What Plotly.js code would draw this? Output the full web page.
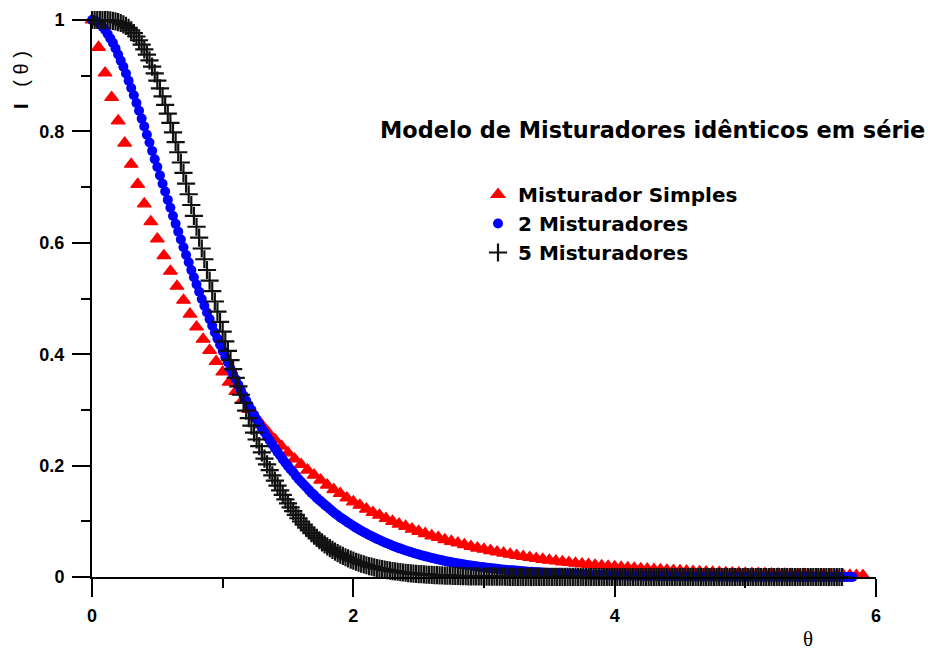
<!DOCTYPE html>
<html><head><meta charset="utf-8">
<script src="https://cdn.plot.ly/plotly-3.0.1.min.js"></script>
<style>html,body{margin:0;padding:0;background:#fff}</style>
</head><body><div id="chart" style="width:928px;height:653px"></div>
<script>
const seriesNames = ['Misturador Simples', '2 Misturadores', '5 Misturadores'];
const chartTitle = 'Modelo de Misturadores idênticos em série';
const xTitle = 'θ';
const yTitle = '<b>I</b>\u00a0\u00a0\u00a0(\u00a0θ\u00a0)';
const thetaStart = 0;
const stepSimples = 0.05;
const stepSeries = 0.02;

const ySimples = [
1, 0.951, 0.905, 0.861, 0.819, 0.779, 0.741, 0.705, 0.670, 0.638,
0.607, 0.577, 0.549, 0.522, 0.497, 0.472, 0.449, 0.427, 0.407, 0.387,
0.368, 0.350, 0.333, 0.317, 0.301, 0.287, 0.273, 0.259, 0.247, 0.235,
0.223, 0.212, 0.202, 0.192, 0.183, 0.174, 0.165, 0.157, 0.150, 0.142,
0.135, 0.129, 0.122, 0.116, 0.111, 0.105, 0.100, 0.095, 0.091, 0.086,
0.082, 0.078, 0.074, 0.071, 0.067, 0.064, 0.061, 0.058, 0.055, 0.052,
0.0498, 0.0474, 0.0450, 0.0429, 0.0408, 0.0388, 0.0369, 0.0351, 0.0334, 0.0317,
0.0302, 0.0287, 0.0273, 0.0260, 0.0247, 0.0235, 0.0224, 0.0213, 0.0202, 0.0193,
0.0183, 0.0174, 0.0166, 0.0158, 0.0150, 0.0143, 0.0136, 0.0129, 0.0123, 0.0117,
0.0111, 0.0106, 0.0101, 0.0096, 0.0091, 0.0087, 0.0082, 0.0078, 0.0074, 0.0071,
0.0067, 0.0064, 0.0061, 0.0058, 0.0055, 0.0052, 0.0050, 0.0047, 0.0045, 0.0043,
0.0041, 0.0039, 0.0037, 0.0035, 0.0033, 0.0032, 0.0030, 0.0029, 0.0027
];

const y2Misturadores = [
1, 0.999, 0.997, 0.993, 0.988, 0.982, 0.975, 0.967, 0.959, 0.949,
0.938, 0.927, 0.916, 0.904, 0.891, 0.878, 0.865, 0.851, 0.837, 0.823,
0.809, 0.794, 0.780, 0.765, 0.750, 0.736, 0.721, 0.706, 0.692, 0.677,
0.663, 0.648, 0.634, 0.620, 0.606, 0.592, 0.578, 0.565, 0.551, 0.538,
0.525, 0.512, 0.499, 0.487, 0.475, 0.463, 0.451, 0.439, 0.428, 0.417,
0.406,
0.395, 0.385, 0.374, 0.364, 0.355, 0.345, 0.335, 0.326, 0.317, 0.308,
0.300, 0.291, 0.283, 0.275, 0.267, 0.260, 0.252, 0.245, 0.238, 0.231,
0.224, 0.218, 0.211, 0.205, 0.199, 0.193, 0.188, 0.182, 0.176, 0.171,
0.166, 0.161, 0.156, 0.151, 0.147, 0.142, 0.138, 0.134, 0.130, 0.126,
0.122, 0.118, 0.114, 0.111, 0.107, 0.104, 0.101, 0.0976, 0.0946, 0.0916,
0.0887, 0.0859, 0.0832, 0.0805, 0.0780, 0.0755, 0.0731, 0.0708, 0.0685, 0.0663,
0.0642, 0.0621, 0.0601, 0.0582, 0.0563, 0.0545, 0.0527, 0.0510, 0.0493, 0.0477,
0.0462, 0.0447, 0.0432, 0.0418, 0.0404, 0.0391, 0.0378, 0.0366, 0.0354, 0.0342,
0.0331, 0.0320, 0.0309, 0.0299, 0.0289, 0.0279, 0.0270, 0.0261, 0.0252, 0.0244,
0.0236, 0.0228, 0.0220, 0.0213, 0.0206, 0.0199, 0.0192, 0.0186, 0.0180, 0.0174,
0.0168, 0.0162, 0.0157, 0.0151, 0.0146, 0.0141, 0.0136, 0.0132, 0.0127, 0.0123,
0.0119, 0.0115, 0.0111, 0.0107, 0.0103, 0.0100, 0.0096, 0.0093, 0.0090, 0.0087,
0.0084, 0.0081, 0.0078, 0.0076, 0.0073, 0.0070, 0.0068, 0.0066, 0.0063, 0.0061,
0.0059, 0.0057, 0.0055, 0.0053, 0.0051, 0.0050, 0.0048, 0.0046, 0.0045, 0.0043,
0.0042, 0.0040, 0.0039, 0.0037, 0.0036, 0.0035, 0.0034, 0.0032, 0.0031, 0.0030,
0.0029, 0.0028, 0.0027, 0.0026, 0.0025, 0.0024, 0.0024, 0.0023, 0.0022, 0.0021,
0.0020, 0.0020, 0.0019, 0.0018, 0.0018, 0.0017, 0.0016, 0.0016, 0.0015, 0.0015,
0.0014, 0.0014, 0.0013, 0.0013, 0.0012, 0.0012, 0.0011, 0.0011, 0.0011, 0.0010,
0.0010, 0.0010, 0.0009, 0.0009, 0.0009, 0.0008, 0.0008, 0.0008, 0.0007, 0.0007,
0.0007, 0.0007, 0.0006, 0.0006, 0.0006, 0.0006, 0.0006, 0.0005, 0.0005, 0.0005,
0.0005, 0.0005, 0.0004, 0.0004, 0.0004, 0.0004, 0.0004, 0.0004, 0.0004, 0.0003,
0.0003, 0.0003, 0.0003, 0.0003, 0.0003, 0.0003, 0.0003, 0.0003, 0.0003, 0.0002,
0.0002, 0.0002, 0.0002, 0.0002, 0.0002, 0.0002, 0.0002, 0.0002, 0.0002, 0.0002,
0.0002, 0.0002, 0.0001, 0.0001, 0.0001, 0.0001, 0.0001, 0.0001, 0.0001, 0.0001,
0.0001
];

const y5Misturadores = [
1, 1, 1, 1, 0.9999, 0.9998, 0.9996, 0.9992, 0.9986, 0.9977, 0.9963,
0.9946, 0.9923, 0.9893, 0.9857, 0.9814, 0.9763, 0.9704, 0.9636, 0.9559, 0.9473,
0.9379, 0.9275, 0.9163, 0.9041, 0.8912, 0.8774, 0.8629, 0.8477, 0.8318, 0.8153,
0.7982, 0.7806, 0.7626, 0.7442, 0.7254, 0.7064, 0.6872, 0.6679, 0.6484, 0.6288,
0.6093, 0.5898, 0.5705, 0.5512, 0.5321, 0.5132, 0.4946, 0.4763, 0.4582, 0.4405,
0.4231, 0.4061, 0.3895, 0.3733, 0.3575, 0.3422, 0.3272, 0.3127, 0.2987, 0.2851,
0.2719, 0.2592, 0.2469, 0.2351, 0.2237, 0.2127, 0.2022, 0.1920, 0.1823, 0.1730,
0.1641, 0.1555, 0.1473, 0.1395, 0.1321, 0.1249, 0.1181, 0.1117, 0.1055, 0.0996,
0.0940, 0.0887, 0.0837, 0.0789, 0.0744, 0.0701, 0.0660, 0.0621, 0.0584, 0.0550,
0.0517, 0.0486, 0.0456, 0.0429, 0.0403, 0.0378, 0.0355, 0.0333, 0.0312, 0.0293,
0.0274, 0.0257, 0.0241, 0.0225, 0.0211, 0.0197, 0.0185, 0.0173, 0.0162, 0.0151,
0.0141, 0.0132, 0.0123, 0.0115, 0.0107, 0.0100, 0.0094, 0.0087, 0.0081, 0.0076,
0.0071, 0.0066, 0.0062, 0.0057, 0.0053, 0.0050, 0.0046, 0.0043, 0.0040, 0.0037,
0.0035, 0.0032, 0.0030, 0.0028, 0.0026, 0.0024, 0.0023, 0.0021, 0.0019, 0.0018,
0.0017, 0.0016, 0.0014, 0.0013, 0.0012, 0.0012, 0.0011, 0.0010, 0.0009, 0.0009,
0.0008, 0.0007, 0.0007, 0.0006, 0.0006, 0.0006, 0.0005, 0.0005, 0.0004, 0.0004,
0.0004, 0.0003, 0.0003, 0.0003, 0.0003, 0.0003, 0.0002, 0.0002, 0.0002, 0.0002,
0.0002, 0.0002, 0.0001, 0.0001, 0.0001, 0.0001, 0.0001, 0.0001, 0.0001, 0.0001,
0.0001, 0.0001, 0.0001, 0.0001, 0.0001, 0, 0, 0, 0, 0,
0, 0, 0, 0, 0, 0, 0, 0, 0, 0,
0, 0, 0, 0, 0, 0, 0, 0, 0, 0,
0, 0, 0, 0, 0, 0, 0, 0, 0, 0,
0, 0, 0, 0, 0, 0, 0, 0, 0, 0,
0, 0, 0, 0, 0, 0, 0, 0, 0, 0,
0, 0, 0, 0, 0, 0, 0, 0, 0, 0,
0, 0, 0, 0, 0, 0, 0, 0, 0, 0,
0, 0, 0, 0, 0, 0, 0, 0, 0, 0,
0, 0, 0, 0, 0, 0, 0, 0, 0, 0,
0, 0, 0, 0, 0, 0, 0
];

const xTickVals = [0, 2, 4, 6];
const yTickVals = [0, 0.2, 0.4, 0.6, 0.8, 1];

const W = 928, H = 653, L = 92, R = 52, T = 20, B = 76;
const pw = W - L - R, ph = H - T - B;
const px = x => (x - L) / pw;
const py = y => (H - B - y) / ph;

const tickFont = {family: 'Liberation Sans, Arial, sans-serif', size: 18, color: '#000', weight: 'bold'};

const traces = [
  {type: 'scatter', mode: 'markers', name: seriesNames[0], x0: thetaStart, dx: stepSimples, y: ySimples,
   marker: {symbol: 'triangle-up', size: 12, color: '#ff0000', line: {width: 1.2, color: '#ff0000'}}, cliponaxis: false},
  {type: 'scatter', mode: 'markers', name: seriesNames[1], x0: thetaStart, dx: stepSeries, y: y2Misturadores,
   marker: {symbol: 'circle', size: 10, color: '#0000ff', line: {width: 0}}, cliponaxis: false},
  {type: 'scatter', mode: 'markers', name: seriesNames[2], x0: thetaStart, dx: stepSeries, y: y5Misturadores,
   marker: {symbol: 'cross-thin', size: 13, color: '#111111', line: {width: 2.2, color: '#111111'}}, cliponaxis: false}
];

const axisCommon = {
  showline: true, linecolor: '#000', linewidth: 2, mirror: false,
  ticks: 'outside', ticklen: 18, tickwidth: 2, tickcolor: '#000',
  showgrid: false, zeroline: false, tickfont: tickFont, fixedrange: true
};

const layout = {
  width: W, height: H,
  margin: {l: L, r: R, t: T, b: B, pad: 0},
  paper_bgcolor: '#fff', plot_bgcolor: '#fff',
  showlegend: true,
  legend: {x: px(478), y: py(175), xanchor: 'left', yanchor: 'top', bgcolor: 'rgba(0,0,0,0)', borderwidth: 0,
           font: {family: 'DejaVu Sans, sans-serif', size: 20, color: '#000', weight: 'bold'}},
  xaxis: Object.assign({}, axisCommon, {range: [0, 6], tickvals: xTickVals, ticklabelstandoff: 3,
    minor: {ticks: 'outside', ticklen: 9, tickwidth: 2, tickcolor: '#000', dtick: 1, tick0: 0, showgrid: false}}),
  yaxis: Object.assign({}, axisCommon, {range: [0, 1], tickvals: yTickVals, ticklabelstandoff: 4,
    minor: {ticks: 'outside', ticklen: 9, tickwidth: 2, tickcolor: '#000', dtick: 0.1, tick0: 0, showgrid: false}}),
  annotations: [
    {text: chartTitle, xref: 'paper', yref: 'paper', x: px(378), y: py(130), xanchor: 'left', yanchor: 'middle',
     showarrow: false, font: {family: 'DejaVu Sans, sans-serif', size: 22.4, color: '#000', weight: 'bold'}},
    {text: yTitle, xref: 'paper', yref: 'paper', x: px(21), y: py(80), xanchor: 'center', yanchor: 'middle',
     textangle: -90, showarrow: false, font: {family: 'Liberation Sans, Arial, sans-serif', size: 20, color: '#000'}},
    {text: xTitle, xref: 'paper', yref: 'paper', x: px(808), y: py(639), xanchor: 'center', yanchor: 'middle',
     showarrow: false, font: {family: 'Liberation Serif, Times New Roman, serif', size: 21, color: '#000'}}
  ]
};

Plotly.newPlot('chart', traces, layout, {staticPlot: true, displayModeBar: false});
</script>
</body></html>
